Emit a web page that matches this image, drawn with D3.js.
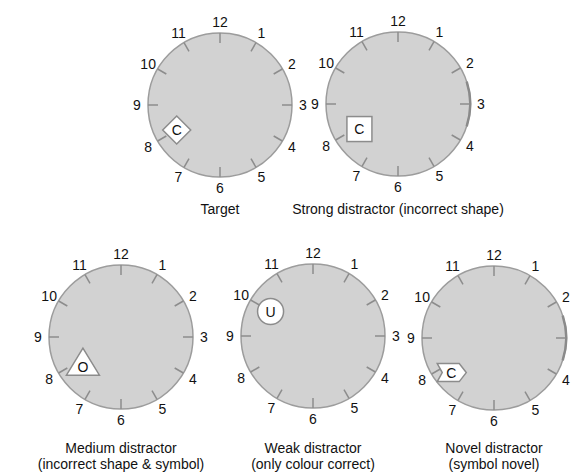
<!DOCTYPE html>
<html>
<head>
<meta charset="utf-8">
<script src="https://cdn.jsdelivr.net/npm/d3@7"></script>
<style>
  body { margin: 0; background: #fff; }
  svg { display: block; }
</style>
</head>
<body>
<div id="vis"></div>
<script>
// clock face numbers
var hours = [12, 1, 2, 3, 4, 5, 6, 7, 8, 9, 10, 11];

// one entry per clock
var captions = [
  ["Target"],
  ["Strong distractor (incorrect shape)"],
  ["Medium distractor", "(incorrect shape & symbol)"],
  ["Weak distractor", "(only colour correct)"],
  ["Novel distractor", "(symbol novel)"]
];
var shapes = ["diamond", "square", "triangle", "circle", "chevron"];
var symbols = ["C", "C", "O", "U", "C"];
var itemHour = [8.0, 7.9, 7.75, 10.0, 7.7];   // where the item sits on the face
var itemDist = [50, 46, 48, 49, 55];          // distance from centre

var W = 573, H = 472;
var R = 72;
var layout = [
  {cx: 220, cy: 105, capY: [214]},
  {cx: 398, cy: 104, capY: [214]},
  {cx: 121, cy: 337, capY: [453, 469]},
  {cx: 313, cy: 336, capY: [453, 469]},
  {cx: 494, cy: 338, capY: [453, 469]}
];
var darkEdge = [false, true, false, false, true];

var font = "'Liberation Sans', Arial, sans-serif";

var angle = d3.scaleLinear().domain([0, 12]).range([0, 2 * Math.PI]);
function px(h, r) { return r * Math.sin(angle(h)); }
function py(h, r) { return -r * Math.cos(angle(h)); }

var svg = d3.select("#vis").append("svg")
  .attr("width", W)
  .attr("height", H);

layout.forEach(function(c, i) {
  var g = svg.append("g").attr("transform", "translate(" + c.cx + "," + c.cy + ")");

  g.append("circle")
    .attr("r", R)
    .attr("fill", "#d2d2d2")
    .attr("stroke", "#9c9c9c")
    .attr("stroke-width", 1.5);

  if (darkEdge[i]) {
    var arc = d3.arc().innerRadius(R - 1).outerRadius(R + 1.5)
      .startAngle(angle(2.4)).endAngle(angle(3.6));
    g.append("path").attr("d", arc).attr("fill", "#8a8a8a");
  }

  g.selectAll(".tick").data(hours).enter().append("line")
    .attr("class", "tick")
    .attr("x1", function(h) { return px(h, R); })
    .attr("y1", function(h) { return py(h, R); })
    .attr("x2", function(h) { return px(h, R - 10); })
    .attr("y2", function(h) { return py(h, R - 10); })
    .attr("stroke", "#8c8c8c")
    .attr("stroke-width", 1.5);

  g.selectAll(".num").data(hours).enter().append("text")
    .attr("class", "num")
    .attr("x", function(h) { return px(h, 83); })
    .attr("y", function(h) { return py(h, 83); })
    .attr("text-anchor", "middle")
    .attr("dominant-baseline", "central")
    .style("font-family", font)
    .style("font-size", "14px")
    .attr("fill", "#111")
    .text(function(h) { return h; });

  // the stimulus item
  var ix = px(itemHour[i], itemDist[i]), iy = py(itemHour[i], itemDist[i]);
  var item = g.append("g").attr("transform", "translate(" + ix + "," + iy + ")");
  var st = {fill: "#fff", stroke: "#8c8c8c", sw: 1.5};
  var s = shapes[i], node, ty = 0;
  if (s === "diamond") {
    node = item.append("polygon").attr("points", "0,-14 14,0 0,14 -14,0");
  } else if (s === "square") {
    node = item.append("rect").attr("x", -12.5).attr("y", -12.5).attr("width", 25).attr("height", 25);
  } else if (s === "triangle") {
    node = item.append("polygon").attr("points", "0,-18 16.5,9 -16.5,9");
    ty = 1;
  } else if (s === "circle") {
    node = item.append("circle").attr("r", 13);
  } else {
    node = item.append("polygon").attr("points", "-14,-9 8,-9 15,0 8,9 -14,9 -9,0");
  }
  node.attr("fill", st.fill).attr("stroke", st.stroke).attr("stroke-width", st.sw);

  item.append("text")
    .attr("y", ty)
    .attr("text-anchor", "middle")
    .attr("dominant-baseline", "central")
    .style("font-family", font)
    .style("font-size", "14px")
    .attr("fill", "#111")
    .text(symbols[i]);

  captions[i].forEach(function(line, k) {
    svg.append("text")
      .attr("x", c.cx)
      .attr("y", c.capY[k])
      .attr("text-anchor", "middle")
      .style("font-family", font)
      .style("font-size", "14px")
      .attr("fill", "#111")
      .text(line);
  });
});
</script>
</body>
</html>
